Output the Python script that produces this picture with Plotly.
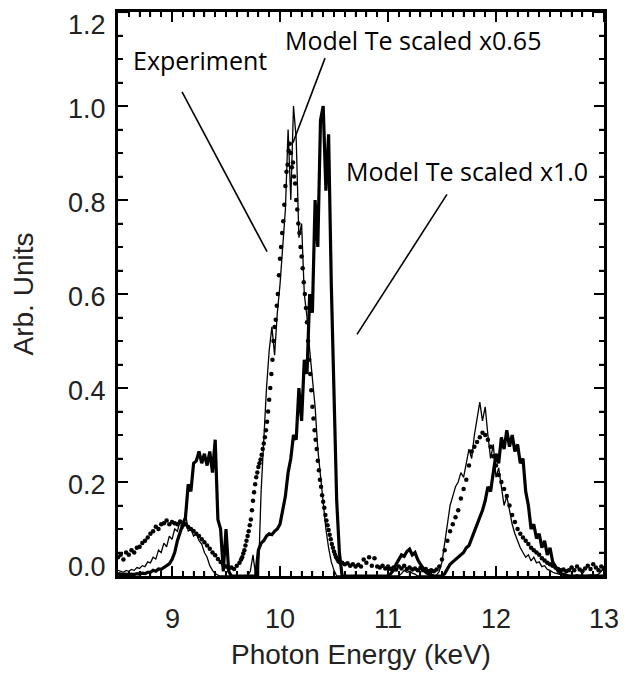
import numpy as np
import plotly.graph_objects as go

# ---------------- data ----------------
# Model spectra on a uniform energy grid (keV)
model_e0, model_de = 8.5, 0.025

model_065 = [
    0.012, 0.010, 0.008, 0.012,  # 8.5
    0.010, 0.014, 0.012, 0.018,  # 8.6
    0.016, 0.022, 0.020, 0.030,  # 8.7
    0.028, 0.040, 0.036, 0.055,  # 8.8
    0.050, 0.070, 0.062, 0.085,  # 8.9
    0.078, 0.100, 0.095, 0.118,  # 9.0
    0.100, 0.135, 0.095, 0.100,  # 9.1
    0.085, 0.090, 0.075, 0.068,  # 9.2
    0.050, 0.040, 0.022, 0.012,  # 9.3
    0.005, 0.002, 0.000, 0.000,  # 9.4
    0.000, 0.000, 0.000, 0.000,  # 9.5
    0.000, 0.000, 0.000, 0.000,  # 9.6
    0.000, 0.010, 0.045, 0.000,  # 9.7
    0.000, 0.180, 0.300, 0.400,  # 9.8
    0.480, 0.530, 0.470, 0.560,  # 9.9
    0.620, 0.700, 0.780, 0.950,  # 10.0
    0.800, 1.000, 0.930, 0.720,  # 10.1
    0.750, 0.600, 0.550, 0.480,  # 10.2
    0.420, 0.360, 0.270, 0.210,  # 10.3
    0.150, 0.100, 0.060, 0.030,  # 10.4
    0.012, 0.000, 0.000, 0.000,  # 10.5
    0.000, 0.000, 0.000, 0.000,  # 10.6
    0.000, 0.000, 0.000, 0.000,  # 10.7
    0.000, 0.000, 0.000, 0.000,  # 10.8
    0.000, 0.000, 0.000, 0.000,  # 10.9
    0.000, 0.000, 0.000, 0.000,  # 11.0
    0.000, 0.005, 0.012, 0.008,  # 11.1
    0.010, 0.006, 0.004, 0.000,  # 11.2
    0.000, 0.000, 0.000, 0.000,  # 11.3
    0.000, 0.000, 0.002, 0.010,  # 11.4
    0.030, 0.070, 0.110, 0.150,  # 11.5
    0.170, 0.190, 0.200, 0.220,  # 11.6
    0.210, 0.240, 0.270, 0.250,  # 11.7
    0.300, 0.335, 0.370, 0.330,  # 11.8
    0.360, 0.300, 0.250, 0.280,  # 11.9
    0.210, 0.230, 0.190, 0.150,  # 12.0
    0.170, 0.140, 0.110, 0.090,  # 12.1
    0.075, 0.060, 0.050, 0.040,  # 12.2
    0.045, 0.032, 0.040, 0.028,  # 12.3
    0.030, 0.020, 0.022, 0.014,  # 12.4
    0.012, 0.008, 0.006, 0.004,  # 12.5
    0.003, 0.002, 0.002, 0.001,  # 12.6
    0.002, 0.001, 0.003, 0.001,  # 12.7
    0.002, 0.001, 0.002, 0.003,  # 12.8
    0.003, 0.002, 0.004, 0.010,  # 12.9
    0.020,                       # 13.0
]

model_10 = [
    0.005, 0.004, 0.003, 0.004,  # 8.5
    0.003, 0.004, 0.003, 0.005,  # 8.6
    0.004, 0.006, 0.005, 0.008,  # 8.7
    0.008, 0.012, 0.010, 0.015,  # 8.8
    0.014, 0.018, 0.022, 0.026,  # 8.9
    0.035, 0.050, 0.075, 0.095,  # 9.0
    0.110, 0.125, 0.195, 0.180,  # 9.1
    0.240, 0.245, 0.265, 0.240,  # 9.2
    0.260, 0.235, 0.265, 0.220,  # 9.3
    0.290, 0.120, 0.100, 0.010,  # 9.4
    0.100, 0.010, 0.000, 0.000,  # 9.5
    0.000, 0.000, 0.000, 0.000,  # 9.6
    0.000, 0.000, 0.000, 0.000,  # 9.7
    0.055, 0.070, 0.075, 0.085,  # 9.8
    0.090, 0.088, 0.095, 0.100,  # 9.9
    0.110, 0.140, 0.170, 0.220,  # 10.0
    0.250, 0.300, 0.290, 0.400,  # 10.1
    0.330, 0.460, 0.430, 0.600,  # 10.2
    0.560, 0.800, 0.700, 0.970,  # 10.3
    1.000, 0.820, 0.940, 0.620,  # 10.4
    0.360, 0.160, 0.050, 0.000,  # 10.5
    0.000, 0.000, 0.000, 0.000,  # 10.6
    0.000, 0.000, 0.000, 0.000,  # 10.7
    0.000, 0.000, 0.000, 0.000,  # 10.8
    0.000, 0.000, 0.000, 0.000,  # 10.9
    0.000, 0.005, 0.012, 0.025,  # 11.0
    0.035, 0.045, 0.042, 0.052,  # 11.1
    0.057, 0.045, 0.050, 0.035,  # 11.2
    0.025, 0.015, 0.008, 0.004,  # 11.3
    0.002, 0.000, 0.000, 0.000,  # 11.4
    0.000, 0.005, 0.015, 0.025,  # 11.5
    0.030, 0.035, 0.040, 0.045,  # 11.6
    0.050, 0.060, 0.065, 0.080,  # 11.7
    0.095, 0.110, 0.125, 0.140,  # 11.8
    0.160, 0.190, 0.180, 0.220,  # 11.9
    0.260, 0.240, 0.295, 0.270,  # 12.0
    0.310, 0.275, 0.300, 0.265,  # 12.1
    0.280, 0.240, 0.250, 0.180,  # 12.2
    0.150, 0.100, 0.110, 0.080,  # 12.3
    0.090, 0.060, 0.075, 0.045,  # 12.4
    0.060, 0.030, 0.020, 0.010,  # 12.5
    0.005, 0.003, 0.002, 0.000,  # 12.6
    0.000, 0.000, 0.000, 0.000,  # 12.7
    0.000, 0.000, 0.000, 0.000,  # 12.8
    0.000, 0.000, 0.000, 0.000,  # 12.9
    0.000,                       # 13.0
]

# Experimental spectrum: sampled in segments (start keV, step keV, values)
exp_seg_a = [
    0.040, 0.045, 0.035, 0.050,
    0.045, 0.055, 0.050, 0.060,
    0.062, 0.070, 0.075, 0.082,
    0.090, 0.095, 0.105, 0.100,
    0.110, 0.112, 0.118, 0.110,
    0.115, 0.112, 0.110, 0.116,
    0.108, 0.110, 0.104, 0.100,
    0.096, 0.090, 0.085, 0.078,
    0.072, 0.065, 0.058, 0.050,
    0.044, 0.036, 0.030, 0.024,
    0.020, 0.016, 0.018, 0.015,
    0.022, 0.028,
]
exp_seg_b = [
    0.035, 0.040, 0.048, 0.055, 0.065, 0.075,
    0.085, 0.095, 0.108, 0.120, 0.140, 0.160, 0.178, 0.195, 0.210, 0.220,
    0.232, 0.240, 0.248, 0.258, 0.270, 0.282, 0.295, 0.310, 0.328, 0.350,
    0.375, 0.400, 0.430, 0.460, 0.500, 0.530, 0.545, 0.575, 0.600, 0.640,
    0.675, 0.700, 0.730, 0.755, 0.790, 0.830, 0.860, 0.875, 0.905, 0.920,
    0.900, 0.870, 0.880, 0.850, 0.835, 0.800, 0.780, 0.750, 0.730, 0.700,
    0.680, 0.655, 0.625, 0.600, 0.570, 0.540, 0.500, 0.460, 0.430, 0.395,
    0.360, 0.335, 0.310, 0.290, 0.270, 0.245, 0.225, 0.205, 0.190, 0.172,
    0.158, 0.145, 0.130, 0.118, 0.108, 0.098, 0.088, 0.078, 0.068, 0.060,
    0.052, 0.046, 0.040, 0.036, 0.032, 0.030, 0.028,
]
exp_seg_c = [
    0.028,
    0.025, 0.027, 0.022, 0.025,
    0.020, 0.024, 0.020, 0.035,
    0.028, 0.040, 0.022, 0.038,
    0.020, 0.018, 0.022, 0.016,
    0.020, 0.015, 0.018, 0.014,
    0.020, 0.016, 0.022, 0.015,
    0.018, 0.014, 0.016, 0.012,
    0.017, 0.012, 0.015, 0.010,
    0.012, 0.010, 0.014,
]
exp_seg_d = [
    0.020,
    0.035, 0.055, 0.075, 0.095,
    0.110, 0.125, 0.140, 0.165,
    0.185, 0.205, 0.235, 0.265,
    0.275, 0.285, 0.295, 0.305,
    0.300, 0.290, 0.275, 0.255,
    0.235, 0.215, 0.200, 0.185,
    0.170, 0.150, 0.130, 0.115,
    0.100, 0.090, 0.082, 0.075,
    0.068, 0.060, 0.055, 0.050,
    0.045, 0.038, 0.033, 0.028,
    0.025, 0.022, 0.018, 0.015,
    0.012, 0.014, 0.010, 0.012,
    0.018, 0.012, 0.020, 0.014,
    0.010, 0.016, 0.022, 0.015,
    0.025, 0.018, 0.012, 0.020,
    0.015,
]
exp_segments = [
    (8.5, 0.025, exp_seg_a),
    (9.64, 0.01, exp_seg_b),
    (10.575, 0.025, exp_seg_c),
    (11.475, 0.025, exp_seg_d),
]

x_tick_vals = [9, 10, 11, 12, 13]
y_tick_vals = [0.0, 0.2, 0.4, 0.6, 0.8, 1.0, 1.2]
x_minor_step = 0.1
y_minor_step = 0.05
x_range = [8.5, 13.0]
y_range = [0.0, 1.2]

labels = ["Experiment", "Model Te scaled x0.65", "Model Te scaled x1.0"]

# ---------------- build ----------------
model_e = np.round(model_e0 + model_de * np.arange(len(model_065)), 4)
exp_e = np.concatenate([np.round(s + d * np.arange(len(v)), 4) for s, d, v in exp_segments])
exp_y = np.concatenate([v for _, _, v in exp_segments])

fig = go.Figure()
fig.add_trace(go.Scatter(x=model_e, y=model_065, mode="lines",
                         line=dict(color="black", width=1.3), name=labels[1]))
fig.add_trace(go.Scatter(x=model_e, y=model_10, mode="lines",
                         line=dict(color="black", width=3.2), name=labels[2]))
fig.add_trace(go.Scatter(x=exp_e, y=exp_y, mode="markers",
                         marker=dict(color="black", size=4.5), name=labels[0]))

# callouts: (label, text x, text y, line x0, y0, x1, y1)
callouts = [
    (labels[0], 9.255, 1.097, 9.093, 1.030, 9.880, 0.690),
    (labels[1], 11.23, 1.140, 10.417, 1.102, 10.120, 0.922),
    (labels[2], 11.73, 0.862, 11.546, 0.812, 10.713, 0.514),
]
for text, tx, ty, x0, y0, x1, y1 in callouts:
    fig.add_annotation(x=tx, y=ty, xref="x", yref="y", text=text, showarrow=False,
                       font=dict(family="Open Sans", size=25, color="black"),
                       xanchor="center", yanchor="middle")
    fig.add_shape(type="line", xref="x", yref="y", x0=x0, y0=y0, x1=x1, y1=y1,
                  line=dict(color="black", width=1.6))

# tick labels (IDL style: offset from the frame, end labels kept inside the frame)
tick_font = dict(family="Liberation Sans", size=27, color="#222")
for v in x_tick_vals:
    fig.add_annotation(x=v, y=0, xref="x", yref="paper", text=f"{v:g}", showarrow=False,
                       font=tick_font, xanchor="center", yanchor="middle", yshift=-43)
for v in y_tick_vals:
    if v == y_range[1]:
        shift = -13
    elif v == y_range[0]:
        shift = 9
    else:
        shift = -3
    fig.add_annotation(x=0, y=v, xref="paper", yref="y", text=f"{v:.1f}", showarrow=False,
                       font=tick_font, xanchor="right", yanchor="middle",
                       xshift=-10, yshift=shift)

# inward tick marks on all four sides of the frame (major 10 px, minor 5 px)
def tick_positions(lo, hi, step):
    n = int(round((hi - lo) / step))
    return [round(lo + step * i, 4) for i in range(n + 1)]

x_ticks = [(v, 10, 2) for v in x_tick_vals] + \
          [(v, 5, 1.5) for v in tick_positions(x_range[0], x_range[1], x_minor_step)
           if min(abs(v - m) for m in x_tick_vals) > 1e-6 and x_range[0] < v < x_range[1]]
y_ticks = [(v, 10, 2) for v in y_tick_vals] + \
          [(v, 5, 1.5) for v in tick_positions(y_range[0], y_range[1], y_minor_step)
           if min(abs(v - m) for m in y_tick_vals) > 1e-6]
for v, ln, w in x_ticks:
    for anchor, sign in ((0, 1), (1, -1)):
        fig.add_shape(type="line", xref="x", yref="paper", ysizemode="pixel", yanchor=anchor,
                      x0=v, x1=v, y0=0, y1=sign * ln, line=dict(color="black", width=w))
for v, ln, w in y_ticks:
    for anchor, sign in ((0, 1), (1, -1)):
        fig.add_shape(type="line", xref="paper", yref="y", xsizemode="pixel", xanchor=anchor,
                      y0=v, y1=v, x0=0, x1=sign * ln, line=dict(color="black", width=w))

axis_common = dict(
    showline=True, linecolor="black", linewidth=2.5, mirror="ticks",
    ticks="inside", ticklen=10, tickwidth=2, tickcolor="black",
    showgrid=False, zeroline=False, showticklabels=True,
    tickfont=dict(size=1, color="rgba(0,0,0,0)"),
)
fig.update_xaxes(range=[x_range[0], x_range[1] + 1e-4], tickmode="linear", tick0=9, dtick=1,
                 minor=dict(ticks="inside", ticklen=5, tickwidth=1.5, tickcolor="black",
                            tick0=9, dtick=x_minor_step, showgrid=False),
                 title=dict(text="Photon Energy (keV)", standoff=66,
                            font=dict(family="Liberation Sans", size=28, color="#222")),
                 **axis_common)
fig.update_yaxes(range=[y_range[0], y_range[1] + 1e-4], tickmode="linear", tick0=0, dtick=0.2,
                 minor=dict(ticks="inside", ticklen=5, tickwidth=1.5, tickcolor="black",
                            tick0=0, dtick=y_minor_step, showgrid=False),
                 title=dict(text="Arb. Units", standoff=72,
                            font=dict(family="Liberation Sans", size=28, color="#222")),
                 **axis_common)

fig.update_layout(
    width=631, height=680,
    margin=dict(l=118, r=27, t=9, b=104),
    paper_bgcolor="white", plot_bgcolor="white",
    showlegend=False,
)
fig.write_html("out.html")
